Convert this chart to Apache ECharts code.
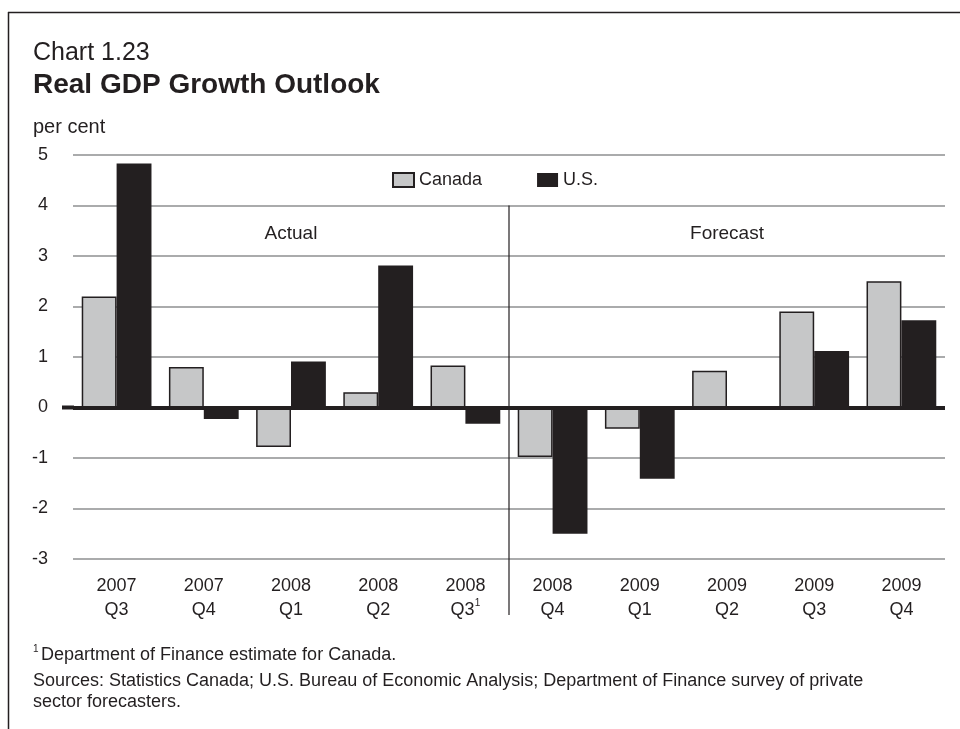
<!DOCTYPE html>
<html><head><meta charset="utf-8">
<script src="https://cdn.jsdelivr.net/npm/echarts@6/dist/echarts.min.js"></script>
<style>html,body{margin:0;padding:0;background:#fff}#c{width:960px;height:729px}</style>
</head><body><div id="c"></div>
<script>
const years = ['2007','2007','2008','2008','2008','2008','2009','2009','2009','2009'];
const quarters = ['Q3','Q4','Q1','Q2','Q3','Q4','Q1','Q2','Q3','Q4'];
const footMarks = ['','','','','1','','','','',''];
const canada = [2.2, 0.8, -0.78, 0.3, 0.83, -0.98, -0.42, 0.73, 1.9, 2.5];
const us = [4.83, -0.23, 0.91, 2.81, -0.32, -2.5, -1.41, 0, 1.12, 1.73];
const yTicks = [-3, -2, -1, 0, 1, 2, 3, 4, 5];
const categories = years.map((y, i) => i);

const INK = '#231f20';
const FONT = '"Liberation Sans", Arial, Helvetica, sans-serif';

const chart = echarts.init(document.getElementById('c'), null, {renderer: 'canvas'});
const option = {
  backgroundColor: '#fff',
  animation: false,
  textStyle: {fontFamily: FONT, color: INK},
  title: [
    {text: 'Chart 1.23', left: 28, top: 36, textStyle: {fontFamily: FONT, fontSize: 25, fontWeight: 'normal', color: INK}},
    {text: 'Real GDP Growth Outlook', left: 28, top: 66, textStyle: {fontFamily: FONT, fontSize: 28, fontWeight: 'bold', color: INK}}
  ],
  legend: {
    left: 387, top: 166,
    icon: 'rect',
    itemWidth: 21, itemHeight: 14, itemGap: 55,
    textStyle: {fontFamily: FONT, fontSize: 18, color: INK},
    data: ['Canada', 'U.S.']
  },
  grid: {left: 73, right: 15, top: 155, bottom: 170, containLabel: false},
  xAxis: {
    type: 'category',
    data: categories,
    axisLine: {show: false, onZero: false},
    axisTick: {show: false},
    splitLine: {show: false},
    axisLabel: {
      margin: 15,
      interval: 0,
      fontFamily: FONT, fontSize: 18, color: INK, lineHeight: 24,
      formatter: function (v) {
        const i = +v;
        return years[i] + '\n' + quarters[i] + (footMarks[i] ? '{sup|' + footMarks[i] + '}' : '');
      },
      rich: {sup: {fontSize: 10, verticalAlign: 'top', lineHeight: 16, fontFamily: FONT, color: INK}}
    }
  },
  yAxis: {
    type: 'value',
    min: yTicks[0], max: yTicks[yTicks.length - 1], interval: 1,
    axisLine: {show: false},
    axisTick: {show: false},
    axisLabel: {margin: 25, fontFamily: FONT, fontSize: 18, color: INK},
    splitLine: {lineStyle: {color: '#8e8f90', width: 1.5}}
  },
  series: [
    {
      name: 'Canada', type: 'bar', data: canada,
      barGap: '0%', barCategoryGap: '20%',
      itemStyle: {color: '#c6c7c8', borderColor: INK, borderWidth: 1.5}
    },
    {
      name: 'U.S.', type: 'bar', data: us,
      itemStyle: {color: INK},
      markLine: {
        silent: true, symbol: ['none', 'none'],
        label: {show: false},
        lineStyle: {color: INK, width: 4, type: 'solid'},
        data: [{yAxis: 0}]
      }
    }
  ]
};
chart.setOption(option);

function addAnnotations() {
  const p4 = chart.convertToPixel({xAxisIndex: 0}, 4);
  const p5 = chart.convertToPixel({xAxisIndex: 0}, 5);
  const p0 = chart.convertToPixel({xAxisIndex: 0}, 0);
  const p9 = chart.convertToPixel({xAxisIndex: 0}, 9);
  const divX = (p4 + p5) / 2;
  const yTop = chart.convertToPixel({yAxisIndex: 0}, 4);
  const yLab = chart.convertToPixel({yAxisIndex: 0}, 3.45);
  const y0 = chart.convertToPixel({yAxisIndex: 0}, 0);
  chart.setOption({
    graphic: [
      {type: 'line', shape: {x1: 8, y1: 12.5, x2: 960, y2: 12.5}, style: {stroke: INK, lineWidth: 1.5}},
      {type: 'line', shape: {x1: 8.5, y1: 12, x2: 8.5, y2: 729}, style: {stroke: INK, lineWidth: 1.5}},
      {type: 'line', z: 5, shape: {x1: 62, y1: y0, x2: 74, y2: y0}, style: {stroke: INK, lineWidth: 4}},
      {type: 'line', shape: {x1: divX, y1: yTop, x2: divX, y2: 615}, style: {stroke: INK, lineWidth: 1.2}},
      {type: 'text', x: (p0 + p4) / 2, y: yLab, style: {text: 'Actual', fill: INK, font: '19px ' + FONT, textAlign: 'center', textVerticalAlign: 'middle'}},
      {type: 'text', x: (p5 + p9) / 2, y: yLab, style: {text: 'Forecast', fill: INK, font: '19px ' + FONT, textAlign: 'center', textVerticalAlign: 'middle'}},
      {type: 'text', x: 33, y: 127, style: {text: 'per cent', fill: INK, font: '20px ' + FONT, textVerticalAlign: 'middle'}},
      {type: 'text', x: 33, y: 649, style: {text: '1', fill: INK, font: '10px ' + FONT, textVerticalAlign: 'middle'}},
      {type: 'text', x: 41, y: 655, style: {text: 'Department of Finance estimate for Canada.', fill: INK, font: '18px ' + FONT, textVerticalAlign: 'middle'}},
      {type: 'text', x: 33, y: 681, style: {text: 'Sources: Statistics Canada; U.S. Bureau of Economic Analysis; Department of Finance survey of private', fill: INK, font: '18px ' + FONT, textVerticalAlign: 'middle'}},
      {type: 'text', x: 33, y: 702, style: {text: 'sector forecasters.', fill: INK, font: '18px ' + FONT, textVerticalAlign: 'middle'}}
    ]
  });
}
addAnnotations();
</script>
</body></html>
